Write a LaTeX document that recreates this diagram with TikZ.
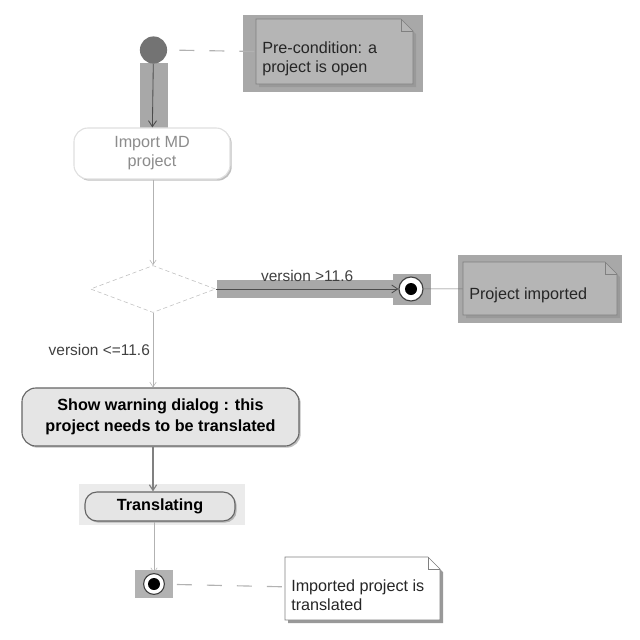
\documentclass[tikz,border=0pt]{standalone}
\usepackage{fontspec}
\setmainfont{Liberation Sans}
\usetikzlibrary{arrows.meta,shapes.geometric,shadows,calc}
\definecolor{hlgray}{gray}{0.66}
\definecolor{notegray}{gray}{0.71}
\newcommand{\dfont}{\fontsize{11.5}{13.5}\selectfont}
\newcommand{\afont}{\bfseries\fontsize{11.5}{15}\selectfont}
\tikzset{
  hl/.style={fill=hlgray},                                   % selection highlight
  startnode/.style={circle,fill=black!55,minimum size=0.68cm,inner sep=0pt},
  endnode/.style={circle,draw=black!75,thick,fill=white,minimum size=0.6cm,inner sep=0pt,
    path picture={\fill[black] (path picture bounding box.center) circle (0.15cm);}},
  act/.style={rectangle,rounded corners=0.35cm,draw=black!60,fill=black!10,thick,align=center,
    font=\afont,inner sep=0pt,drop shadow={shadow xshift=1.2pt,shadow yshift=-1.2pt,opacity=0.5}},
  faded/.style={draw=black!12,fill=white,text=black!45,font=\dfont,drop shadow={opacity=0}},
  decision/.style={diamond,draw=black!25,densely dashed,fill=white,minimum width=3.125cm,
    minimum height=1.175cm,inner sep=0pt},
  notetext/.style={align=left,anchor=west,font=\dfont,text=black!85,inner sep=0pt},
  flow/.style={-{Straight Barb[length=1.5mm,width=2mm]},black!70,semithick},
  thinflow/.style={-{Straight Barb[length=1.2mm,width=1.6mm]},black!30},
  midflow/.style={-{Straight Barb[length=1.4mm,width=1.8mm]},black!50,thick},
  anchorline/.style={black!30,thick,dash pattern=on 0.375cm off 0.375cm},
  link/.style={black!55},
  lbl/.style={font=\fontsize{11}{13}\selectfont,text=black!75,inner sep=2pt},
}
% note with folded corner: name, x, y, width, height, fill, text
\newcommand{\notebox}[7]{%
  \fill[black!40] (#2-#4/2+3,#3+#5/2+3) -- (#2-#4/2+3,#3-#5/2+3) -- (#2+#4/2-9,#3-#5/2+3)
    -- (#2+#4/2+3,#3-#5/2+15) -- (#2+#4/2+3,#3+#5/2+3) -- cycle;
  \filldraw[fill=#6,draw=black!50] (#2-#4/2,#3+#5/2) -- (#2-#4/2,#3-#5/2) -- (#2+#4/2-12,#3-#5/2)
    -- (#2+#4/2,#3-#5/2+12) -- (#2+#4/2,#3+#5/2) -- cycle;
  \draw[black!50] (#2+#4/2-12,#3-#5/2) |- (#2+#4/2,#3-#5/2+12);
  \node[minimum width=#4*0.025cm,minimum height=#5*0.025cm,inner sep=0pt] (#1) at (#2,#3) {};
  \node[notetext] (#1-t) at (#2-#4/2+6,#3+7) {#7};
}

\begin{document}
\begin{tikzpicture}[x=0.025cm,y=-0.025cm]
  \useasboundingbox (0,0) rectangle (640,640);
  % highlights
  \fill[hl] (140,63) rectangle (168,128);
  \fill[hl] (217,280) rectangle (393,298);
  \fill[hl] (393,274) rectangle (431,305);
  \fill[hl] (243,15) rectangle (423,92);
  \fill[hl] (458,255) rectangle (622,323);
  \fill[hl,fill=black!8] (79,484) rectangle (245,525);
  \fill[hl,fill=black!30] (135,570) rectangle (173,598);

  \node[startnode] (start) at (153.5,50) {};
  \node[act,faded,minimum width=3.9cm,minimum height=1.275cm] (import) at (152,153.5) {Import MD\\project};
  \node[decision] (dec) at (153,289) {};
  \node[endnode] (done) at (411,289) {};
  \node[act,minimum width=6.925cm,minimum height=1.45cm] (warn) at (160.5,417) {Show warning dialog : this\\project needs to be translated};
  \node[act,rounded corners=0.3cm,minimum width=3.75cm,minimum height=0.725cm] (trans) at (160,506.5) {Translating};
  \node[endnode,minimum size=0.52cm] (stop) at (154,584) {};

  \notebox{pre}{334.5}{51.5}{157}{65}{notegray}{Pre-condition: a\\project is open}
  \notebox{impnote}{540}{288.5}{154}{53}{notegray}{Project imported}
  \notebox{transnote}{362.5}{588.5}{155}{63}{white}{Imported project is\\translated}

  \draw[flow] (start) -- (import);
  \draw[anchorline,shorten <=0.3cm] (start.east) -- (pre.west);
  \draw[thinflow] (import.south -| dec) -- (dec);
  \draw[flow] (dec) -- node[lbl,above=0.1cm] {version >11.6} (done);
  \draw[link] (done) -- (impnote);
  \draw[thinflow] (dec) -- node[lbl,left] {version <=11.6} (dec |- warn.north);
  \draw[midflow] (warn.south -| dec) -- (trans.north -| dec);
  \draw[thinflow] (trans.south -| stop) -- (stop);
  \draw[anchorline,shorten <=0.3cm] (stop) -- (transnote);
\end{tikzpicture}
\end{document}
